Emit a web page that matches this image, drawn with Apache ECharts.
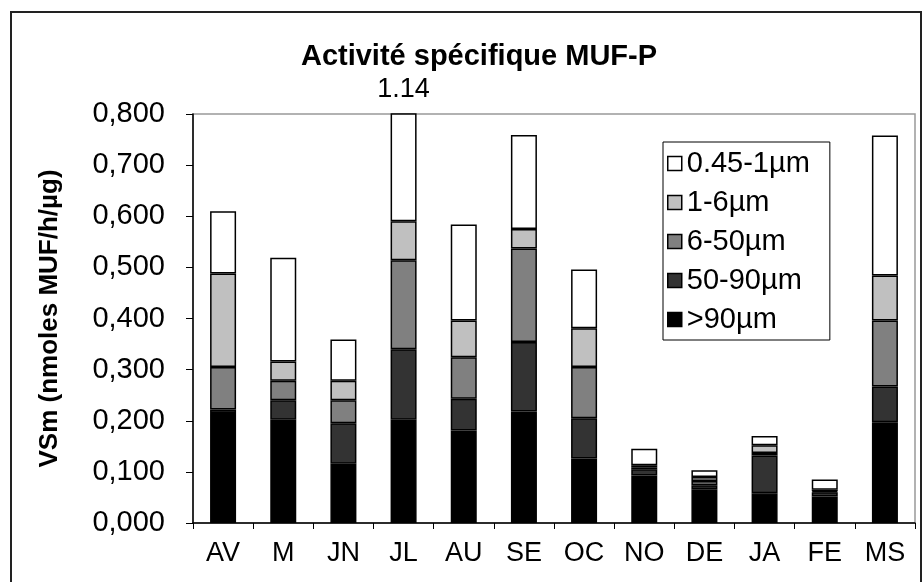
<!DOCTYPE html>
<html>
<head>
<meta charset="utf-8">
<script src="https://cdn.jsdelivr.net/npm/echarts@6/dist/echarts.min.js"></script>
<style>html,body{margin:0;padding:0;background:#fff}#c{width:923px;height:582px}</style>
</head>
<body>
<div id="c"></div>
<script>
const categories = ['AV','M','JN','JL','AU','SE','OC','NO','DE','JA','FE','MS'];
const sizeNames = ['>90µm','50-90µm','6-50µm','1-6µm','0.45-1µm'];
const gt90    = [0.215,0.202,0.116,0.202,0.181,0.218,0.126,0.093,0.066,0.058,0.052,0.197];
const s50_90  = [0.007,0.038,0.079,0.138,0.062,0.136,0.079,0.012,0.008,0.074,0.008,0.070];
const s6_50   = [0.083,0.038,0.045,0.174,0.081,0.183,0.100,0.004,0.008,0.005,0.002,0.129];
const s1_6    = [0.183,0.038,0.038,0.076,0.072,0.038,0.076,0.004,0.008,0.015,0.003,0.088];
const s045_1  = [0.122,0.203,0.081,0.550,0.188,0.184,0.115,0.032,0.013,0.018,0.020,0.274];
const yTicks = [0,0.1,0.2,0.3,0.4,0.5,0.6,0.7,0.8];
const colors = ['#000000','#333333','#808080','#c0c0c0','#ffffff'];
const FONT = "'Liberation Sans', Arial, sans-serif";
const yMax = yTicks[yTicks.length-1];

const layers = [gt90, s50_90, s6_50, s1_6, s045_1];
const totals = categories.map((c,i)=>layers.reduce((s,a)=>s+a[i],0));

const series = layers.map((arr, k) => ({
  name: sizeNames[k],
  type: 'bar',
  stack: 'all',
  barWidth: 26,
  clip: true,
  itemStyle: {color: colors[k], borderColor: '#000', borderWidth: 1.5},
  emphasis: {disabled: true},
  data: arr.map((v,i) => {
    const d = {value: v};
    if (k === layers.length-1 && totals[i] > yMax) {
      d.label = {show: true, position: 'top', distance: 10, formatter: totals[i].toFixed(2),
                 fontFamily: FONT, fontSize: 27, color: '#000'};
    }
    return d;
  })
}));

const chart = echarts.init(document.getElementById('c'), null, {renderer: 'canvas'});
chart.setOption({
  animation: false,
  backgroundColor: '#fff',
  title: {
    text: 'Activité spécifique MUF-P',
    left: 474, top: 37, textAlign: 'center',
    textStyle: {fontFamily: FONT, fontSize: 29, fontWeight: 'bold', color: '#000'}
  },
  grid: {left: 193, top: 114, right: 8, bottom: 59, show: true, borderColor: '#999', borderWidth: 1.5, backgroundColor: '#fff'},
  legend: {
    orient: 'vertical', left: 663, top: 142,
    data: sizeNames.slice().reverse(),
    itemWidth: 14, itemHeight: 14, itemGap: 10,
    padding: [7, 20, 6, 4],
    borderColor: '#000', borderWidth: 1,
    icon: 'rect',
    itemStyle: {borderColor: '#000', borderWidth: 1.5},
    textStyle: {fontFamily: FONT, fontSize: 29, color: '#000', lineHeight: 29}
  },
  xAxis: {
    type: 'category', data: categories,
    axisLine: {lineStyle: {color: '#000', width: 1.5}},
    axisTick: {show: true, length: 6, alignWithLabel: false, lineStyle: {color: '#000'}},
    axisLabel: {fontFamily: FONT, fontSize: 27, color: '#000', margin: 17}
  },
  yAxis: {
    type: 'value', min: 0, max: yMax, interval: 0.1,
    name: 'VSm (nmoles MUF/h/µg)', nameLocation: 'middle', nameGap: 130,
    nameTextStyle: {fontFamily: FONT, fontSize: 26, fontWeight: 'bold', color: '#000'},
    axisLine: {show: true, lineStyle: {color: '#000', width: 1.5}},
    axisTick: {show: true, length: 7, lineStyle: {color: '#000'}},
    splitLine: {show: false},
    axisLabel: {fontFamily: FONT, fontSize: 29, color: '#000', margin: 28,
      formatter: v => v.toFixed(3).replace('.', ',')}
  },
  graphic: [{
    type: 'rect', shape: {x: 11, y: 12, width: 910, height: 600},
    style: {fill: 'none', stroke: '#222', lineWidth: 2}, silent: true, z: 100
  }],
  series: series
});
</script>
</body>
</html>
